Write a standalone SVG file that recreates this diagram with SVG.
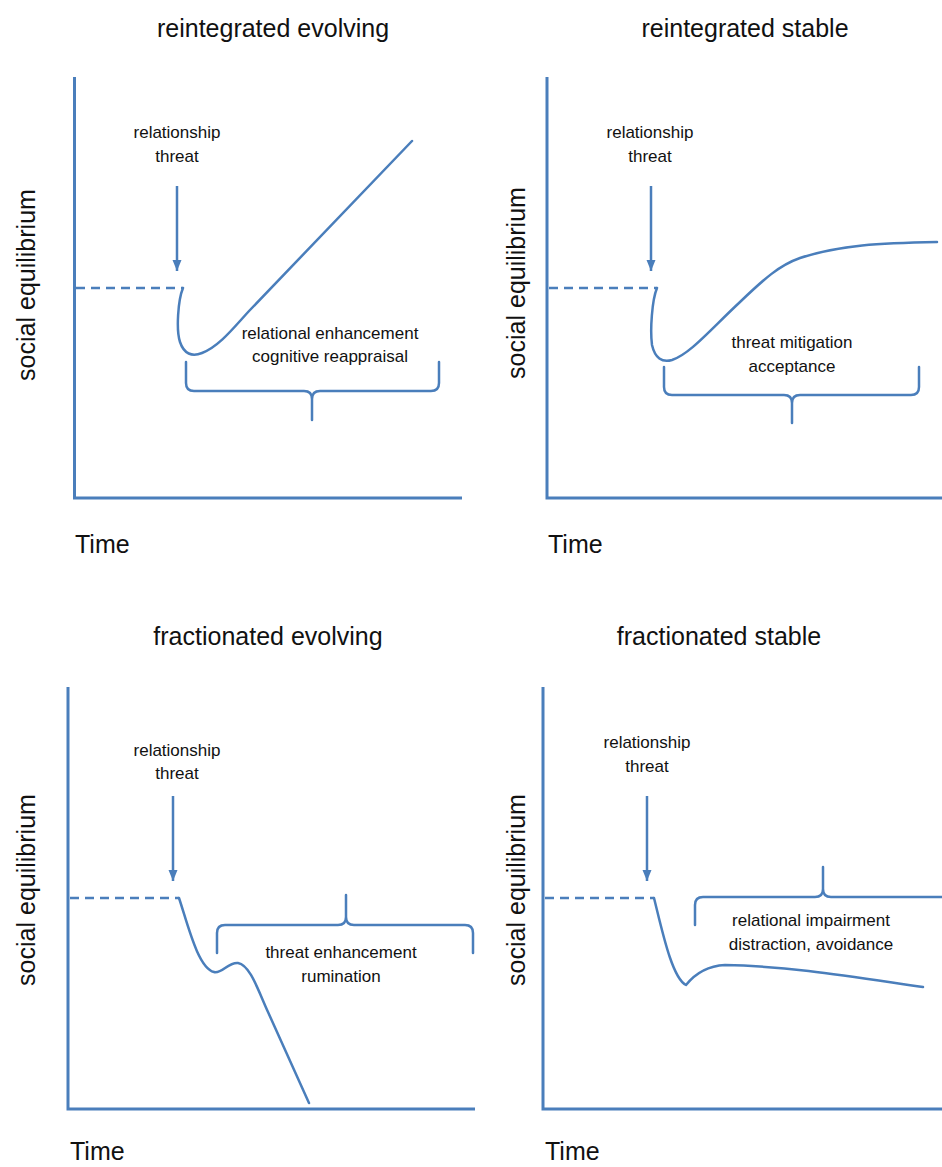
<svg xmlns="http://www.w3.org/2000/svg" width="942" height="1167" viewBox="0 0 942 1167">
<style>
.big{font-family:"Liberation Sans",Arial,sans-serif;font-size:25px;fill:#111}
.title{text-anchor:middle}
.sm{font-family:"Liberation Sans",Arial,sans-serif;font-size:17px;fill:#111;text-anchor:middle}
.axis{fill:none;stroke:#4a7ebb;stroke-width:3}
.curve{fill:none;stroke:#4a7ebb;stroke-width:2.5;stroke-linejoin:round;stroke-linecap:round}
.dash{fill:none;stroke:#4a7ebb;stroke-width:2.5;stroke-dasharray:9 6}
.arr{fill:none;stroke:#4a7ebb;stroke-width:2.5;marker-end:url(#ah)}
</style>
<defs>
<marker id="ah" markerUnits="userSpaceOnUse" markerWidth="12" markerHeight="12" viewBox="0 0 12 12" refX="11" refY="6" orient="auto">
<path d="M0,1.5 L11,6 L0,10.5 Z" fill="#4a7ebb"/>
</marker>
</defs>
<rect width="942" height="1167" fill="#fff"/>

<g id="panel-reintegrated-evolving">
<text class="big title" x="273" y="37">reintegrated evolving</text>
<text class="big" x="35" y="285" text-anchor="middle" transform="rotate(-90 35 285)">social equilibrium</text>
<text class="big" x="75" y="553">Time</text>
<path class="axis" d="M74.5,77 V498 H462"/>
<text class="sm" x="177" y="138">relationship</text>
<text class="sm" x="177" y="162">threat</text>
<text class="sm" x="330" y="339">relational enhancement</text>
<text class="sm" x="330" y="362">cognitive reappraisal</text>
</g>

<g id="panel-reintegrated-stable">
<text class="big title" x="745" y="37">reintegrated stable</text>
<text class="big" x="525" y="283" text-anchor="middle" transform="rotate(-90 525 283)">social equilibrium</text>
<text class="big" x="548" y="553">Time</text>
<path class="axis" d="M547,77 V498 H942"/>
<text class="sm" x="650" y="138">relationship</text>
<text class="sm" x="650" y="162">threat</text>
<text class="sm" x="792" y="348">threat mitigation</text>
<text class="sm" x="792" y="372">acceptance</text>
</g>

<g id="panel-fractionated-evolving">
<text class="big title" x="268" y="645">fractionated evolving</text>
<text class="big" x="35" y="890" text-anchor="middle" transform="rotate(-90 35 890)">social equilibrium</text>
<text class="big" x="70" y="1160">Time</text>
<path class="axis" d="M68,687 V1109 H475"/>
<text class="sm" x="177" y="756">relationship</text>
<text class="sm" x="177" y="779">threat</text>
<text class="sm" x="341" y="958">threat enhancement</text>
<text class="sm" x="341" y="982">rumination</text>
</g>

<g id="panel-fractionated-stable">
<text class="big title" x="719" y="645">fractionated stable</text>
<text class="big" x="525" y="890" text-anchor="middle" transform="rotate(-90 525 890)">social equilibrium</text>
<text class="big" x="545" y="1160">Time</text>
<path class="axis" d="M543,687 V1109 H942"/>
<text class="sm" x="647" y="748">relationship</text>
<text class="sm" x="647" y="772">threat</text>
<text class="sm" x="811" y="926">relational impairment</text>
<text class="sm" x="811" y="950">distraction, avoidance</text>
</g>

<g id="connectors">
<!-- panel 1 -->
<path class="dash" d="M76,288 H183"/>
<path class="arr" d="M177,186 V271"/>
<path class="curve" d="M183,288 C178,300 176,330 180,342 C184,354 192,357 202,353 C220,346 235,326 250,310 L412,141"/>
<path class="curve" d="M186,362 L186,383 Q186,391 194,391 L304,391 Q312,391 312,399 L312,420 L312,399 Q312,391 320,391 L431,391 Q439,391 439,383 L439,362"/>
<!-- panel 2 -->
<path class="dash" d="M549,288 H657"/>
<path class="arr" d="M651,186 V271"/>
<path class="curve" d="M657,288 C652,300 650,330 652,345 C655,358 662,363 672,360 C690,354 710,330 740,302 C765,278 780,265 800,258 C840,245 880,243 937,242"/>
<path class="curve" d="M664,367 L664,387 Q664,395 672,395 L784,395 Q792,395 792,403 L792,423 L792,403 Q792,395 800,395 L911,395 Q919,395 919,387 L919,367"/>
<!-- panel 3 -->
<path class="dash" d="M70,898 H179"/>
<path class="arr" d="M173,796 V881"/>
<path class="curve" d="M179,898 C188,925 198,968 214,972 C222,974 228,962 238,963 C250,965 258,990 268,1012 L309,1103"/>
<path class="curve" d="M217,953 L217,933 Q217,925 225,925 L338,925 Q346,925 346,917 L346,895 L346,917 Q346,925 354,925 L465,925 Q473,925 473,933 L473,953"/>
<!-- panel 4 -->
<path class="dash" d="M545,898 H654"/>
<path class="arr" d="M647,796 V881"/>
<path class="curve" d="M654,898 C662,930 672,978 686,985 C694,975 705,966 725,965 C790,966 860,978 923,987"/>
<path class="curve" d="M695,925 L695,905 Q695,897 703,897 L815,897 Q823,897 823,889 L823,867 L823,889 Q823,897 831,897 L942,897"/>
</g>
</svg>
